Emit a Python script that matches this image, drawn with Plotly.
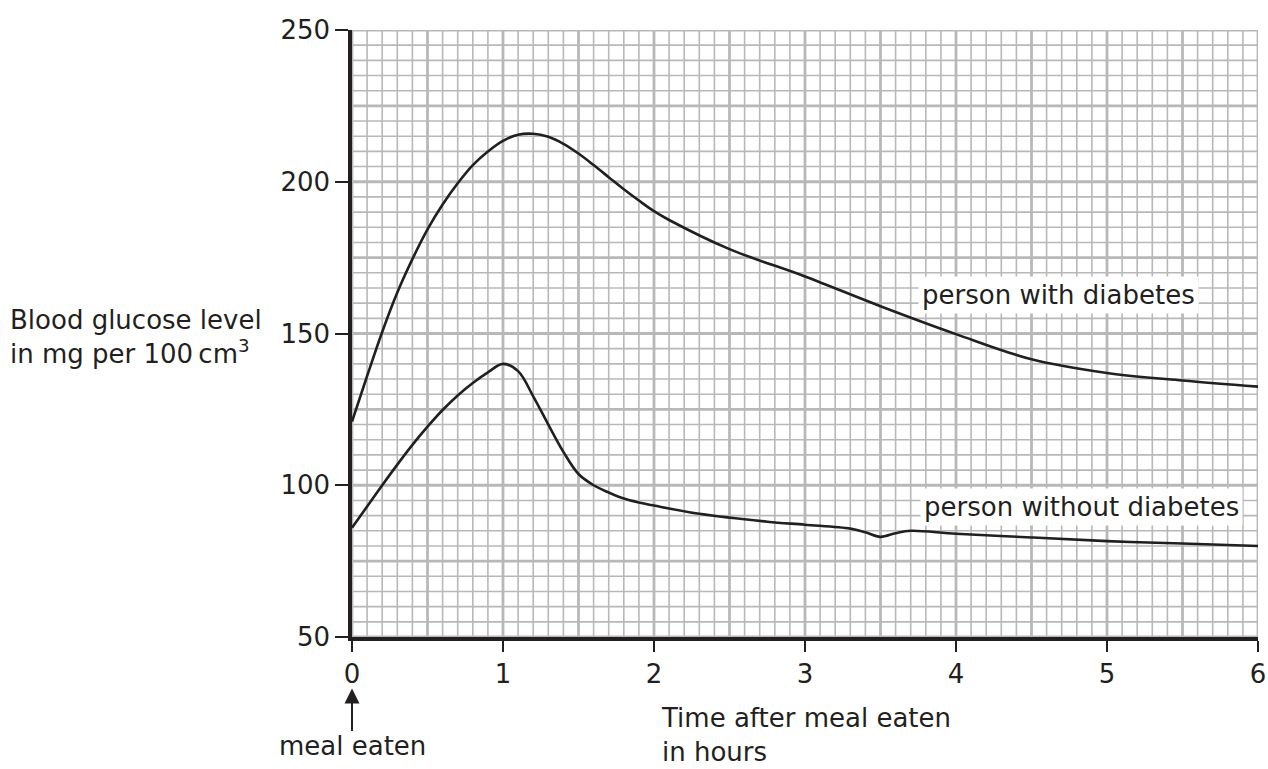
import numpy as np
import plotly.graph_objects as go

# ---- data ----
t_diabetes = [0, 0.1, 0.2, 0.3, 0.4, 0.5, 0.6, 0.7, 0.8, 0.9, 1.0, 1.1, 1.2, 1.3,
              1.4, 1.5, 1.6, 1.7, 1.8, 1.9, 2.0, 2.1, 2.5, 3.0, 3.5, 4.0, 4.5,
              5.0, 5.5, 6.0]
v_diabetes = [121, 136, 150.5, 163.5, 174.5, 184.3, 192.5, 199.5, 205.5, 210, 213.5,
              215.5, 215.8, 214.8, 212.5, 209.3, 205.5, 201.5, 197.5, 193.8, 190.3,
              187.4, 177.8, 168.8, 159, 149.8, 141.5, 137, 134.5, 132.5]

t_normal = [0, 0.1, 0.2, 0.3, 0.4, 0.5, 0.6, 0.7, 0.8, 0.9, 1.0, 1.1, 1.2, 1.3,
            1.4, 1.5, 1.6, 1.7, 1.8, 1.9, 2.0, 2.3, 2.75, 3.0, 3.3, 3.4, 3.5,
            3.6, 3.7, 4.0, 4.5, 5.0, 5.5, 6.0]
v_normal = [86, 93, 100, 106.8, 113.3, 119.3, 124.8, 129.6, 133.7, 137.2, 140, 137.6,
            129.3, 120, 111, 103.7, 100, 97.6, 95.6, 94.3, 93.3, 90.6, 88, 87,
            85.7, 84.5, 83, 84.2, 85, 84, 82.8, 81.6, 80.8, 80]

x_ticks = [0, 1, 2, 3, 4, 5, 6]
y_ticks = [50, 100, 150, 200, 250]

INK = "#231f20"
GRID = "#b8b8b8"
FONT = "'DejaVu Sans', sans-serif"
FS = 26

W, H = 1268, 769
L, R, T, B = 352, 10, 30, 132.4
plot_w = W - L - R
plot_h = H - T - B


def px_x(p):
    return (p - L) / plot_w


def px_y(p):
    return (H - B - p) / plot_h


fig = go.Figure()

for tt, vv in ((t_diabetes, v_diabetes), (t_normal, v_normal)):
    fig.add_trace(go.Scatter(x=tt, y=vv, mode="lines",
                             line=dict(color=INK, width=2.6, shape="spline", smoothing=1.0),
                             hoverinfo="skip", showlegend=False))

# graph-paper grid
shapes = []
for i, xv in enumerate(np.round(np.arange(0, 6.0001, 0.1), 2)):
    major = (i % 5 == 0)
    shapes.append(dict(type="line", layer="below", xref="x", yref="y",
                       x0=xv, x1=xv, y0=50, y1=250,
                       line=dict(color=GRID, width=2.8 if major else 1.6)))
for i, yv in enumerate(np.arange(50, 250.001, 5)):
    major = (i % 5 == 0)
    shapes.append(dict(type="line", layer="below", xref="x", yref="y",
                       x0=0, x1=6, y0=yv, y1=yv,
                       line=dict(color=GRID, width=2.8 if major else 1.6)))

tfont = dict(size=FS, color=INK, family=FONT)
annotations = [
    dict(x=4.68, y=162.6, xref="x", yref="y", text="person with diabetes",
         showarrow=False, bgcolor="white", borderpad=3, font=tfont),
    dict(x=4.83, y=92.7, xref="x", yref="y", text="person without diabetes",
         showarrow=False, bgcolor="white", borderpad=3, font=tfont),
    dict(x=px_x(8), y=px_y(337), xref="paper", yref="paper",
         text="Blood glucose level<br>in mg per 100\u2009cm<sup>3</sup>",
         showarrow=False, xanchor="left", yanchor="middle", align="left",
         font=tfont),
    dict(x=px_x(659), y=px_y(735), xref="paper", yref="paper",
         text="Time after meal eaten<br>in hours",
         showarrow=False, xanchor="left", yanchor="middle", align="left",
         font=tfont),
    # "meal eaten" with its arrow pointing up at the 0 tick
    dict(x=0, y=px_y(688), xref="x", yref="paper", text="meal eaten",
         showarrow=True, arrowhead=2, arrowsize=1.5, arrowwidth=2,
         arrowcolor=INK, ax=0, ay=58, borderpad=0, font=tfont),
]

axis_common = dict(showgrid=False, zeroline=False, showline=True, linecolor=INK,
                   linewidth=3.5, ticks="outside", tickwidth=2, tickcolor=INK,
                   ticklabelstandoff=0, tickfont=tfont, automargin=False)

fig.update_layout(
    width=W, height=H,
    margin=dict(l=L, r=R, t=T, b=B, autoexpand=False),
    paper_bgcolor="white", plot_bgcolor="white",
    shapes=shapes, annotations=annotations,
    font=dict(family=FONT, color=INK, size=FS),
    xaxis=dict(range=[0, 6], tickvals=x_ticks, ticktext=[str(v) for v in x_ticks],
               ticklen=11, **axis_common),
    yaxis=dict(range=[50, 250], tickvals=y_ticks, ticktext=[str(v) for v in y_ticks],
               ticklen=13, **axis_common),
)

fig.write_html("out.html", config={"displayModeBar": False},
               post_script="document.body.style.margin='0';")
